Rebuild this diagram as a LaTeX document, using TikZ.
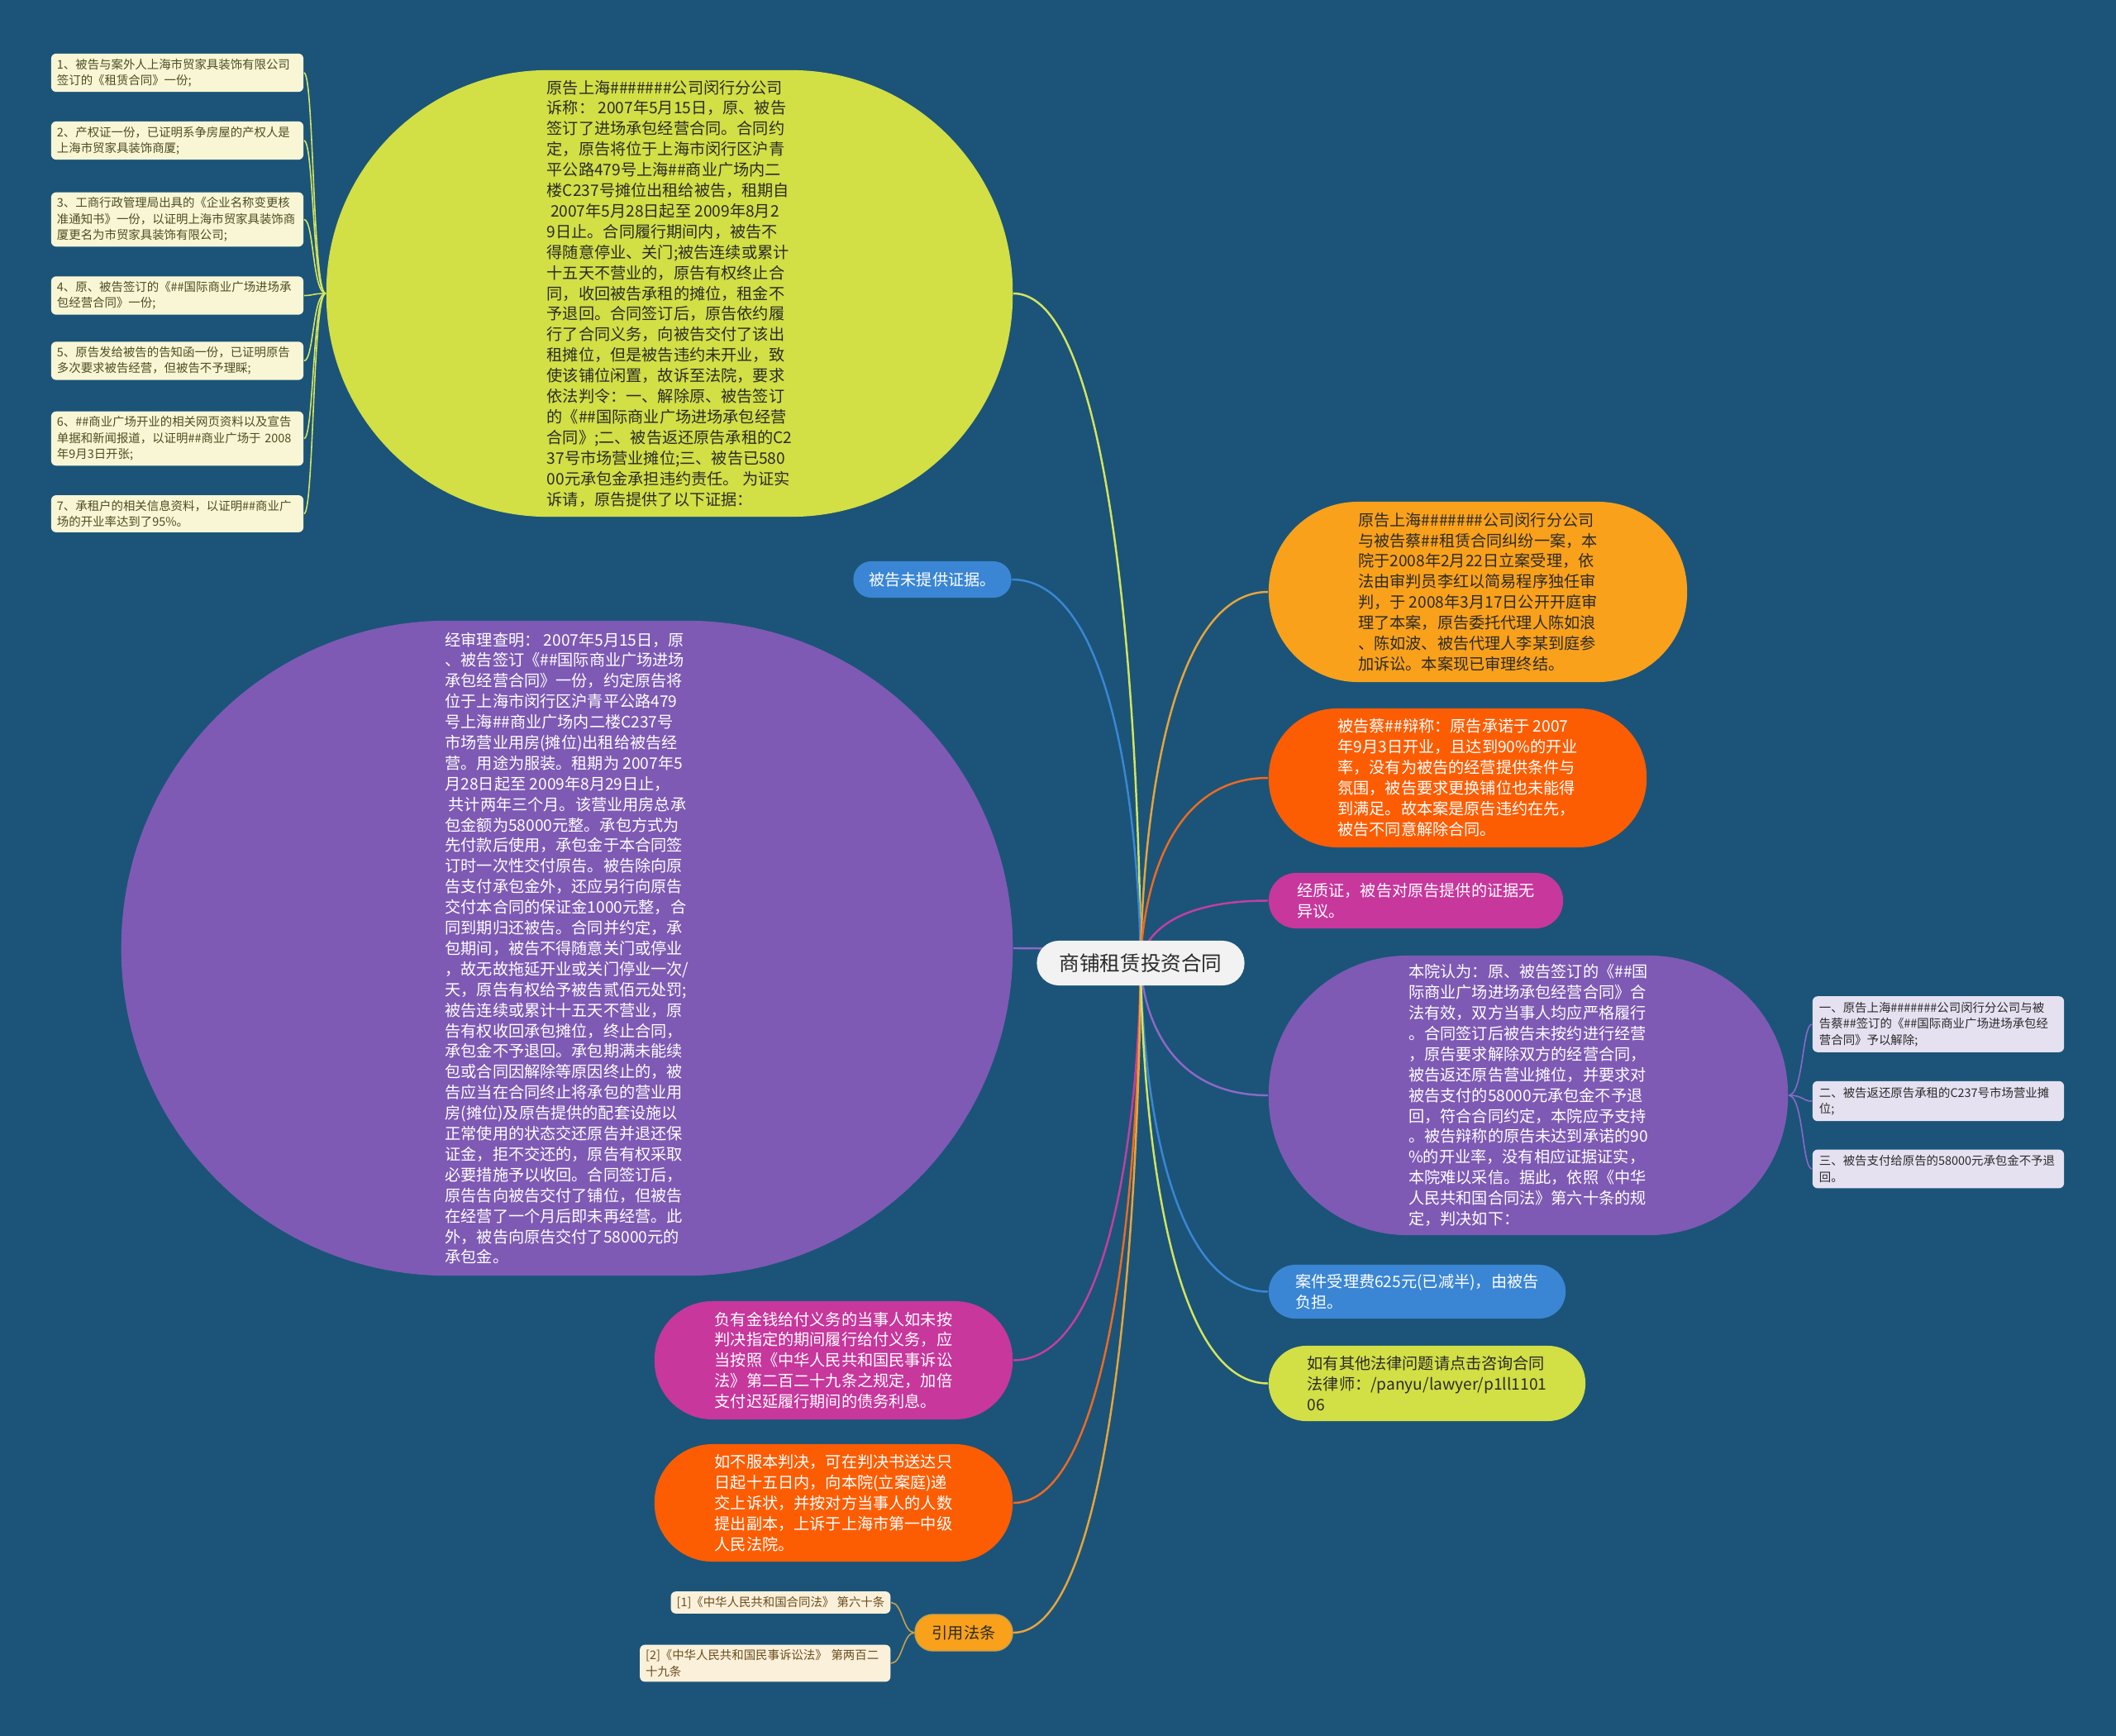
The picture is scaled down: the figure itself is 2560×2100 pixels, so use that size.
\documentclass[tikz,border=0pt]{standalone}
\usepackage{fontspec}
\setmainfont{Noto Sans CJK SC}
\usetikzlibrary{calc}

\definecolor{bgblue}{HTML}{1B5478}
\definecolor{yelfill}{HTML}{D2DF45}
\definecolor{orgfill}{HTML}{F9A11B}
\definecolor{redfill}{HTML}{FC5D03}
\definecolor{magfill}{HTML}{C7379C}
\definecolor{purfill}{HTML}{7E5AB4}
\definecolor{bluefill}{HTML}{3A86D4}
\definecolor{rootfill}{HTML}{F2F2F2}
\definecolor{leafyel}{HTML}{F8F6D5}
\definecolor{leafpur}{HTML}{E5E1F1}
\definecolor{leaforg}{HTML}{FBF0DA}
\definecolor{darktxt}{HTML}{2B2B2B}
\definecolor{oliverxt}{HTML}{4E4E22}
\definecolor{browntxt}{HTML}{6B4E1E}
\definecolor{edyel}{HTML}{D4E45E}
\definecolor{edorg}{HTML}{E8A43C}
\definecolor{edred}{HTML}{EE6A22}
\definecolor{edmag}{HTML}{C33F9E}
\definecolor{edpur}{HTML}{8D68C8}
\definecolor{edblue}{HTML}{3A86D4}
\definecolor{edtan}{HTML}{C8A04C}

\newcommand\bigtxt{\fontsize{5.45}{7.08}\selectfont}
\newcommand\smalltxt{\fontsize{4.1}{5.5}\selectfont}

\pgfdeclarelayer{bg}
\pgfdeclarelayer{edges}
\pgfsetlayers{bg,edges,main}

\tikzset{
  topic/.style={rectangle, inner sep=0pt, align=left, font=\bigtxt},
  leaf/.style={rectangle, rounded corners=0.06cm, align=left, font=\smalltxt,
    inner xsep=0.07cm, inner ysep=0.06cm},
  branch/.style={line width=0.7pt},
  twig/.style={line width=0.45pt},
}

\begin{document}
\begin{tikzpicture}[x=0.01cm, y=-0.01cm]
  \begin{pgfonlayer}{bg}
    \fill[bgblue] (0,0) rectangle (2560,2100);
  \end{pgfonlayer}

  % root
  \node[topic, fill=rootfill, text=darktxt, minimum width=2.51cm, minimum height=0.54cm,
    rounded corners=0.265cm, font=\fontsize{7}{8.4}\selectfont] (root) at (1380,1165) {商铺租赁投资合同};

  % left side
  \node[topic, fill=yelfill, text=darktxt, minimum width=8.3cm, minimum height=5.4cm,
    rounded corners=2.68cm] (yel) at (810,355) {%
原告上海\#\#\#\#\#\#\#公司闵行分公司\\
诉称： 2007年5月15日，原、被告\\
签订了进场承包经营合同。合同约\\
定，原告将位于上海市闵行区沪青\\
平公路479号上海\#\#商业广场内二\\
楼C237号摊位出租给被告，租期自\\
\ 2007年5月28日起至 2009年8月2\\
9日止。合同履行期间内，被告不\\
得随意停业、关门;被告连续或累计\\
十五天不营业的，原告有权终止合\\
同，收回被告承租的摊位，租金不\\
予退回。合同签订后，原告依约履\\
行了合同义务，向被告交付了该出\\
租摊位，但是被告违约未开业，致\\
使该铺位闲置，故诉至法院，要求\\
依法判令：一、解除原、被告签订\\
的《\#\#国际商业广场进场承包经营\\
合同》;二、被告返还原告承租的C2\\
37号市场营业摊位;三、被告已580\\
00元承包金承担违约责任。 为证实\\
诉请，原告提供了以下证据：};

  \node[leaf, fill=leafyel, text=oliverxt, text width=2.91cm] (e1) at (214.5,88) {1、被告与案外人上海市贸家具装饰有限公司\\签订的《租赁合同》一份;};
  \node[leaf, fill=leafyel, text=oliverxt, text width=2.91cm] (e2) at (214.5,170) {2、产权证一份，已证明系争房屋的产权人是\\上海市贸家具装饰商厦;};
  \node[leaf, fill=leafyel, text=oliverxt, text width=2.91cm] (e3) at (214.5,265.5) {3、工商行政管理局出具的《企业名称变更核\\准通知书》一份，以证明上海市贸家具装饰商\\厦更名为市贸家具装饰有限公司;};
  \node[leaf, fill=leafyel, text=oliverxt, text width=2.91cm] (e4) at (214.5,357.5) {4、原、被告签订的《\#\#国际商业广场进场承\\包经营合同》一份;};
  \node[leaf, fill=leafyel, text=oliverxt, text width=2.91cm] (e5) at (214.5,436.5) {5、原告发给被告的告知函一份，已证明原告\\多次要求被告经营，但被告不予理睬;};
  \node[leaf, fill=leafyel, text=oliverxt, text width=2.91cm] (e6) at (214.5,530.5) {6、\#\#商业广场开业的相关网页资料以及宣告\\单据和新闻报道，以证明\#\#商业广场于 2008\\年9月3日开张;};
  \node[leaf, fill=leafyel, text=oliverxt, text width=2.91cm] (e7) at (214.5,621.5) {7、承租户的相关信息资料，以证明\#\#商业广\\场的开业率达到了95\%。};

  \node[topic, fill=bluefill, text=white, minimum width=1.91cm, minimum height=0.44cm,
    rounded corners=0.215cm] (nopf) at (1128,701) {被告未提供证据。};

  \node[topic, fill=purfill, text=white, minimum width=10.78cm, minimum height=7.92cm,
    rounded corners=3.95cm] (purl) at (686,1147) {%
经审理查明： 2007年5月15日，原\\
、被告签订《\#\#国际商业广场进场\\
承包经营合同》一份，约定原告将\\
位于上海市闵行区沪青平公路479\\
号上海\#\#商业广场内二楼C237号\\
市场营业用房(摊位)出租给被告经\\
营。用途为服装。租期为 2007年5\\
月28日起至 2009年8月29日止，\\
\ 共计两年三个月。该营业用房总承\\
包金额为58000元整。承包方式为\\
先付款后使用，承包金于本合同签\\
订时一次性交付原告。被告除向原\\
告支付承包金外，还应另行向原告\\
交付本合同的保证金1000元整，合\\
同到期归还被告。合同并约定，承\\
包期间，被告不得随意关门或停业\\
，故无故拖延开业或关门停业一次/\\
天，原告有权给予被告贰佰元处罚;\\
被告连续或累计十五天不营业，原\\
告有权收回承包摊位，终止合同，\\
承包金不予退回。承包期满未能续\\
包或合同因解除等原因终止的，被\\
告应当在合同终止将承包的营业用\\
房(摊位)及原告提供的配套设施以\\
正常使用的状态交还原告并退还保\\
证金，拒不交还的，原告有权采取\\
必要措施予以收回。合同签订后，\\
原告告向被告交付了铺位，但被告\\
在经营了一个月后即未再经营。此\\
外，被告向原告交付了58000元的\\
承包金。};

  \node[topic, fill=magfill, text=white, minimum width=4.33cm, minimum height=1.43cm,
    rounded corners=0.7cm] (pay) at (1008.5,1645.5) {%
负有金钱给付义务的当事人如未按\\
判决指定的期间履行给付义务，应\\
当按照《中华人民共和国民事诉讼\\
法》第二百二十九条之规定，加倍\\
支付迟延履行期间的债务利息。};

  \node[topic, fill=redfill, text=white, minimum width=4.33cm, minimum height=1.42cm,
    rounded corners=0.7cm] (appeal) at (1008.5,1818) {%
如不服本判决，可在判决书送达只\\
日起十五日内，向本院(立案庭)递\\
交上诉状，并按对方当事人的人数\\
提出副本，上诉于上海市第一中级\\
人民法院。};

  \node[topic, fill=orgfill, draw=edtan, line width=0.4pt, text=darktxt, minimum width=1.18cm,
    minimum height=0.44cm, rounded corners=0.215cm] (law) at (1166,1975) {引用法条};
  \node[leaf, fill=leaforg, text=browntxt, anchor=east] (r1) at (1078,1938.5) {[1]《中华人民共和国合同法》 第六十条};
  \node[leaf, fill=leaforg, text=browntxt, anchor=east, text width=2.89cm] (r2) at (1078,2012) {[2]《中华人民共和国民事诉讼法》 第两百二\\十九条};

  % right side
  \node[topic, fill=orgfill, text=darktxt, minimum width=5.06cm, minimum height=2.18cm,
    rounded corners=1.08cm] (org) at (1788,716) {%
原告上海\#\#\#\#\#\#\#公司闵行分公司\\
与被告蔡\#\#租赁合同纠纷一案，本\\
院于2008年2月22日立案受理，依\\
法由审判员李红以简易程序独任审\\
判，于 2008年3月17日公开开庭审\\
理了本案，原告委托代理人陈如浪\\
、陈如波、被告代理人李某到庭参\\
加诉讼。本案现已审理终结。};

  \node[topic, fill=redfill, text=white, minimum width=4.57cm, minimum height=1.68cm,
    rounded corners=0.83cm] (red1) at (1763.5,941) {%
被告蔡\#\#辩称：原告承诺于 2007\\
年9月3日开业，且达到90\%的开业\\
率，没有为被告的经营提供条件与\\
氛围，被告要求更换铺位也未能得\\
到满足。故本案是原告违约在先，\\
被告不同意解除合同。};

  \node[topic, fill=magfill, text=white, minimum width=3.56cm, minimum height=0.67cm,
    rounded corners=0.33cm] (mag1) at (1713,1089.5) {%
经质证，被告对原告提供的证据无\\
异议。};

  \node[topic, fill=purfill, text=white, minimum width=6.28cm, minimum height=3.38cm,
    rounded corners=1.68cm] (pur2) at (1849,1325) {%
本院认为：原、被告签订的《\#\#国\\
际商业广场进场承包经营合同》合\\
法有效，双方当事人均应严格履行\\
。合同签订后被告未按约进行经营\\
，原告要求解除双方的经营合同，\\
被告返还原告营业摊位，并要求对\\
被告支付的58000元承包金不予退\\
回，符合合同约定，本院应予支持\\
。被告辩称的原告未达到承诺的90\\
\%的开业率，没有相应证据证实，\\
本院难以采信。据此，依照《中华\\
人民共和国合同法》第六十条的规\\
定，判决如下：};

  \node[leaf, fill=leafpur, text=darktxt, text width=2.88cm, inner xsep=0.08cm, inner ysep=0.07cm] (j1) at (2345,1239) {一、原告上海\#\#\#\#\#\#\#公司闵行分公司与被\\告蔡\#\#签订的《\#\#国际商业广场进场承包经\\营合同》予以解除;};
  \node[leaf, fill=leafpur, text=darktxt, text width=2.88cm, inner xsep=0.08cm, inner ysep=0.07cm] (j2) at (2345,1332) {二、被告返还原告承租的C237号市场营业摊\\位;};
  \node[leaf, fill=leafpur, text=darktxt, text width=2.88cm, inner xsep=0.08cm, inner ysep=0.07cm] (j3) at (2345,1414) {三、被告支付给原告的58000元承包金不予退\\回。};

  \node[topic, fill=bluefill, text=white, minimum width=3.59cm, minimum height=0.65cm,
    rounded corners=0.32cm] (fee) at (1714.5,1562.5) {%
案件受理费625元(已减半)，由被告\\
负担。};

  \node[topic, fill=yelfill, text=darktxt, minimum width=3.83cm, minimum height=0.91cm,
    rounded corners=0.45cm] (ask) at (1726.5,1673.5) {%
如有其他法律问题请点击咨询合同\\
法律师：/panyu/lawyer/p1ll1101\\
06};

  % connectors
  \begin{pgfonlayer}{edges}
    \foreach \n/\c in {yel/edyel, nopf/edblue, purl/edpur, pay/edmag, appeal/edred, law/edorg}
      \draw[branch, \c] (root.center) .. controls (root.center) and (root.center |- \n.east) .. (\n.east);
    \foreach \n/\c in {org/edorg, red1/edred, mag1/edmag, pur2/edpur, fee/edblue, ask/edyel}
      \draw[branch, \c] (root.center) .. controls (root.center) and (root.center |- \n.west) .. (\n.west);
    \foreach \i in {1,...,7}
      \draw[twig, edyel] (yel.west) .. controls ($(yel.west)+(-16,0)$) and ($(e\i.east)+(12,0)$) .. (e\i.east);
    \foreach \i in {1,2,3}
      \draw[twig, edpur] (pur2.east) .. controls ($(pur2.east)+(18,0)$) and ($(j\i.west)+(-12,0)$) .. (j\i.west);
    \foreach \i in {1,2}
      \draw[twig, edtan] (law.west) .. controls ($(law.west)+(-14,0)$) and ($(r\i.east)+(14,0)$) .. (r\i.east);
  \end{pgfonlayer}
\end{tikzpicture}
\end{document}
